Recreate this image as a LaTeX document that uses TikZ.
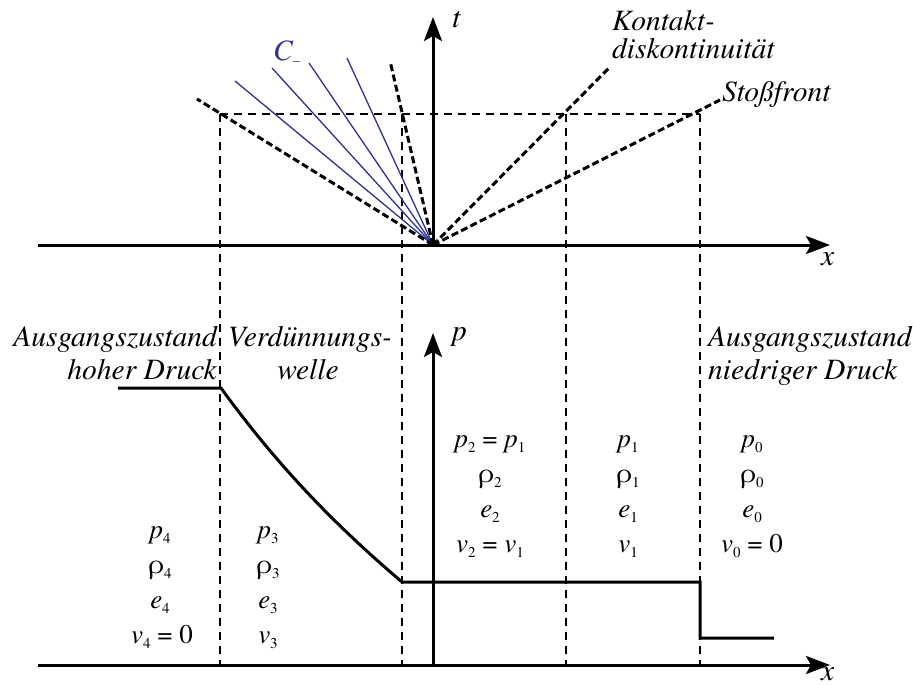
\documentclass[tikz,border=0pt]{standalone}
\usepackage{fontspec}
\setmainfont{TeX Gyre Termes}
\usetikzlibrary{arrows.meta}
\definecolor{cblue}{RGB}{45,50,150}
\newcommand\lsub[1]{\raisebox{-0.2em}{\fontsize{15}{15}\selectfont\upshape #1}}
\newcommand\vi[1]{\textit{#1}}
\newcommand\rh{ρ}
\begin{document}
\begin{tikzpicture}[x=1pt,y=-1pt,
  axis/.style={line width=3pt,-{Stealth[length=24pt,width=18pt,inset=5pt]}},
  thickdash/.style={line width=3pt,dash pattern=on 7pt off 3.5pt},
  thindash/.style={line width=1.2pt,dash pattern=on 8pt off 6pt},
  charline/.style={cblue,line width=1.3pt},
  curveline/.style={line width=3pt},
  lab/.style={font=\fontsize{29.5}{33}\selectfont\itshape,inner sep=0pt},
  val/.style={font=\fontsize{27}{30}\selectfont,inner sep=0pt,anchor=base}]
\useasboundingbox (0,0) rectangle (913,685);

% coordinates
\coordinate (O) at (433,245);
\coordinate (h1) at (220,114);
\coordinate (h2) at (402,114);
\coordinate (h3) at (566,114);
\coordinate (h4) at (700,114);
\coordinate (b1) at (220,665);
\coordinate (b2) at (402,665);
\coordinate (b3) at (566,665);
\coordinate (b4) at (700,665);

% thin dashed guide lines
\draw[thindash] (h1) -- (h4);
\draw[thindash] (h1) -- (b1);
\draw[thindash] (h2) -- (b2);
\draw[thindash] (h3) -- (b3);
\draw[thindash] (h4) -- (b4);

% characteristics C-
\coordinate (c1) at (235,81);
\coordinate (c2) at (272,68);
\coordinate (c3) at (309,63);
\coordinate (c4) at (347,58);
\draw[charline] (O) -- (c1);
\draw[charline] (O) -- (c2);
\draw[charline] (O) -- (c3);
\draw[charline] (O) -- (c4);
\node[lab,text=cblue,anchor=base west] (cm) at (273,60) {C\lsub{–}};

% fan boundaries
\coordinate (rhd) at (197,99);
\coordinate (rtl) at (390,61);
\coordinate (ct) at (610,67);
\coordinate (st) at (720,100);
\draw[thickdash] (O) -- (rhd);
\draw[thickdash] (O) -- (rtl);
\draw[thickdash] (O) -- (ct);
\draw[thickdash] (O) -- (st);

% top axes
\coordinate (xl) at (38,245);
\coordinate (xr) at (830,245);
\coordinate (tt) at (433,17);
\draw[axis] (xl) -- (xr);
\draw[axis] (O) -- (tt);
\node[lab,anchor=base west] (tlab) at (452,28) {t};
\node[lab,anchor=base west] (xlab1) at (821,265) {x};

\node[lab,anchor=base west] (kon1) at (612,31) {Kontakt-};
\node[lab,anchor=base west] (kon2) at (612,59) {diskontinuität};
\node[lab,anchor=base west] (stoss) at (722,101) {Stoßfront};

% bottom axes
\coordinate (bl) at (38,665);
\coordinate (br) at (830,665);
\coordinate (pO) at (433,665);
\coordinate (pt) at (433,333);
\draw[axis] (bl) -- (br);
\draw[axis] (pO) -- (pt);
\node[lab,anchor=base west] (plab) at (452,340) {p};
\node[lab,anchor=base west] (xlab2) at (821,680) {x};

% pressure curve
\coordinate (a1) at (118,388);
\coordinate (a2) at (221,388);
\coordinate (a3) at (402,582);
\coordinate (a4) at (700,582);
\coordinate (a5) at (700,638);
\coordinate (a6) at (774,638);
\draw[curveline] (a1) -- (a2) .. controls (281,471) and (342,531) .. (a3) -- (a4) -- (a5) -- (a6);

% region labels
\node[lab,anchor=base east] (az1) at (217,346) {Ausgangszustand};
\node[lab,anchor=base east] (az2) at (217,379) {hoher Druck};
\node[lab,anchor=base] (vd1) at (310,346) {Verdünnungs-};
\node[lab,anchor=base] (vd2) at (308,379) {welle};
\node[lab,anchor=base west] (an1) at (708,346) {Ausgangszustand};
\node[lab,anchor=base west] (an2) at (708,379) {niedriger Druck};

% state values
\node[val] (p4) at (160,538) {\vi{p}\lsub{4}};
\node[val] (r4) at (160,573) {\rh\lsub{4}};
\node[val] (e4) at (160,608) {\vi{e}\lsub{4}};
\node[val] (v4) at (162,643) {\vi{v}\lsub{4} = 0};

\node[val] (p3) at (268,538) {\vi{p}\lsub{3}};
\node[val] (r3) at (268,573) {\rh\lsub{3}};
\node[val] (e3) at (268,608) {\vi{e}\lsub{3}};
\node[val] (v3) at (268,643) {\vi{v}\lsub{3}};

\node[val] (p2) at (490,447) {\vi{p}\lsub{2} = \vi{p}\lsub{1}};
\node[val] (r2) at (490,482) {\rh\lsub{2}};
\node[val] (e2) at (490,517) {\vi{e}\lsub{2}};
\node[val] (v2) at (490,552) {\vi{v}\lsub{2} = \vi{v}\lsub{1}};

\node[val] (p1) at (628,447) {\vi{p}\lsub{1}};
\node[val] (r1) at (628,482) {\rh\lsub{1}};
\node[val] (e1) at (628,517) {\vi{e}\lsub{1}};
\node[val] (v1) at (628,552) {\vi{v}\lsub{1}};

\node[val] (p0) at (752,447) {\vi{p}\lsub{0}};
\node[val] (r0) at (752,482) {\rh\lsub{0}};
\node[val] (e0) at (752,517) {\vi{e}\lsub{0}};
\node[val] (v0) at (752,552) {\vi{v}\lsub{0} = 0};
\end{tikzpicture}
\end{document}
